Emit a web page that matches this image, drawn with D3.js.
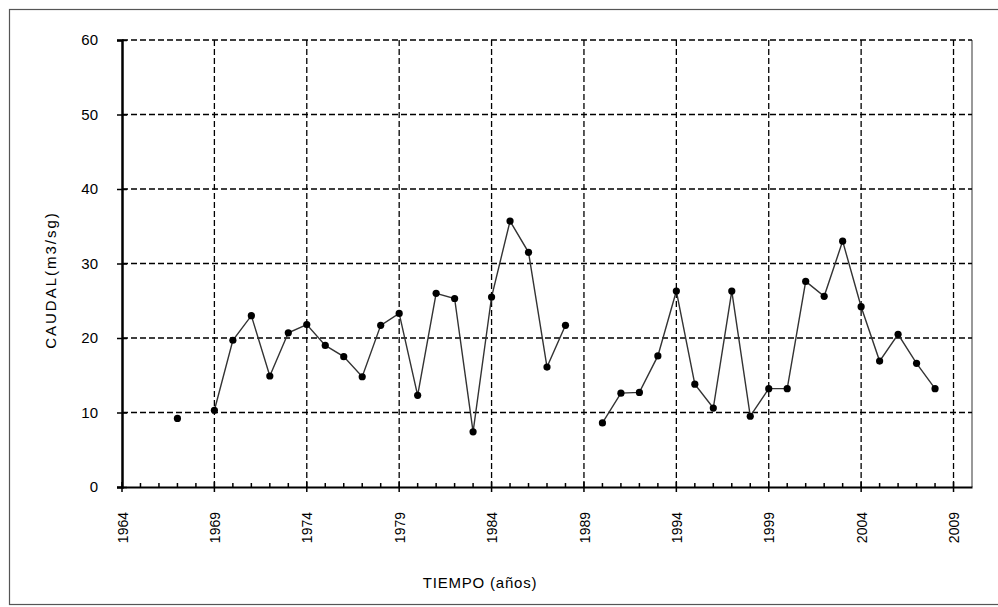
<!DOCTYPE html>
<html>
<head>
<meta charset="utf-8">
<script src="https://cdn.jsdelivr.net/npm/d3@7"></script>
<style>
  body { margin: 0; background: #fff; }
  svg text { font-family: "Liberation Sans", Arial, sans-serif; fill: #000; }
</style>
</head>
<body>
<div id="canvas"></div>
<script>
// datos anuales de caudal (null = sin dato)
let years = [1967, 1968, 1969, 1970, 1971, 1972, 1973, 1974, 1975, 1976, 1977, 1978, 1979,
    1980, 1981, 1982, 1983, 1984, 1985, 1986, 1987, 1988, 1989, 1990, 1991, 1992, 1993,
    1994, 1995, 1996, 1997, 1998, 1999, 2000, 2001, 2002, 2003, 2004, 2005, 2006, 2007, 2008];
let caudal = [9.2, null, 10.3, 19.7, 23.0, 14.9, 20.7, 21.8, 19.0, 17.5, 14.8, 21.7, 23.3,
    12.3, 26.0, 25.3, 7.4, 25.5, 35.7, 31.5, 16.1, 21.7, null, 8.6, 12.6, 12.7, 17.6,
    26.3, 13.8, 10.6, 26.3, 9.5, 13.2, 13.2, 27.6, 25.6, 33.0, 24.2, 16.9, 20.5, 16.6, 13.2];
let xTicks = [1964, 1969, 1974, 1979, 1984, 1989, 1994, 1999, 2004, 2009];
let yTicks = [0, 10, 20, 30, 40, 50, 60];

let width = 998;
let height = 607;
let margin = { left: 122, right: 26, top: 40, bottom: 120 };

let svg = d3.select("#canvas")
    .append("svg")
    .attr("width", width)
    .attr("height", height);

// marco exterior
svg.append("rect")
    .attr("x", 9.5).attr("y", 9.5)
    .attr("width", 992).attr("height", 595)
    .attr("fill", "none")
    .attr("stroke", "#555")
    .attr("stroke-width", 1.2);

const x = d3.scaleLinear()
    .domain([1964, 2010])
    .range([margin.left, width - margin.right]);

const y = d3.scaleLinear()
    .domain([0, 60])
    .range([height - margin.bottom, margin.top]);

let plot = svg.append("g");

// borde derecho del area de trazado
plot.append("line")
    .attr("x1", x(2010)).attr("x2", x(2010))
    .attr("y1", y(60)).attr("y2", y(0))
    .attr("stroke", "#777").attr("stroke-width", 1.5);

// rejilla horizontal
plot.selectAll(".hgrid")
    .data(yTicks.filter(d => d > 0))
    .join("line")
    .attr("class", "hgrid")
    .attr("x1", x(1964)).attr("x2", x(2010))
    .attr("y1", d => y(d)).attr("y2", d => y(d))
    .attr("stroke", "#000")
    .attr("stroke-width", 1.3)
    .attr("stroke-dasharray", "6,3");

// rejilla vertical
plot.selectAll(".vgrid")
    .data(xTicks.filter(d => d > 1964))
    .join("line")
    .attr("class", "vgrid")
    .attr("x1", d => x(d)).attr("x2", d => x(d))
    .attr("y1", y(60)).attr("y2", y(0))
    .attr("stroke", "#000")
    .attr("stroke-width", 1.3)
    .attr("stroke-dasharray", "6,3");

// eje X
let xAxis = d3.axisBottom(x)
    .tickValues(xTicks)
    .tickSize(0)
    .tickFormat(d3.format("d"));

let gx = svg.append("g")
    .attr("transform", `translate(0,${y(0)})`)
    .call(xAxis);
gx.select(".domain").attr("stroke", "#000").attr("stroke-width", 2);
gx.selectAll(".tick text")
    .attr("transform", "rotate(-90)")
    .attr("text-anchor", "end")
    .attr("x", -25)
    .attr("y", 0)
    .attr("dy", "0.36em")
    .style("font-size", "14px");

// marcas menores y mayores del eje X
let minorYears = d3.range(1965, 2010).filter(d => (d - 1964) % 5 !== 0);
gx.selectAll(".minor")
    .data(minorYears)
    .join("line")
    .attr("class", "minor")
    .attr("x1", d => x(d)).attr("x2", d => x(d))
    .attr("y1", 0).attr("y2", -4)
    .attr("stroke", "#000").attr("stroke-width", 1.5);
gx.selectAll(".major")
    .data(xTicks)
    .join("line")
    .attr("class", "major")
    .attr("x1", d => x(d)).attr("x2", d => x(d))
    .attr("y1", -5).attr("y2", 5)
    .attr("stroke", "#000").attr("stroke-width", 1.5);

// eje Y
let yAxis = d3.axisLeft(y)
    .tickValues(yTicks)
    .tickSize(5)
    .tickPadding(19);

let gy = svg.append("g")
    .attr("transform", `translate(${x(1964)},0)`)
    .call(yAxis);
gy.select(".domain").attr("stroke", "#000").attr("stroke-width", 2.5);
gy.selectAll(".tick line").attr("stroke", "#000").attr("stroke-width", 1.5).attr("x2", 5).attr("x1", -5);
gy.selectAll(".tick text").style("font-size", "15px");

// serie
let pts = years.map((d, i) => ({ year: d, value: caudal[i] }));

let line = d3.line()
    .defined(d => d.value !== null)
    .x(d => x(d.year))
    .y(d => y(d.value));

plot.append("path")
    .datum(pts)
    .attr("d", line)
    .attr("fill", "none")
    .attr("stroke", "#333")
    .attr("stroke-width", 1.4);

plot.selectAll(".pt")
    .data(pts.filter(d => d.value !== null))
    .join("circle")
    .attr("class", "pt")
    .attr("cx", d => x(d.year))
    .attr("cy", d => y(d.value))
    .attr("r", 3.6)
    .attr("fill", "#000");

// titulos de ejes
svg.append("text")
    .attr("x", 480)
    .attr("y", 588)
    .attr("text-anchor", "middle")
    .style("font-size", "15px")
    .style("letter-spacing", "0.8px")
    .text("TIEMPO (años)");

svg.append("text")
    .attr("transform", "translate(56,280) rotate(-90)")
    .attr("text-anchor", "middle")
    .style("font-size", "15px")
    .style("letter-spacing", "2px")
    .text("CAUDAL(m3/sg)");
</script>
</body>
</html>
